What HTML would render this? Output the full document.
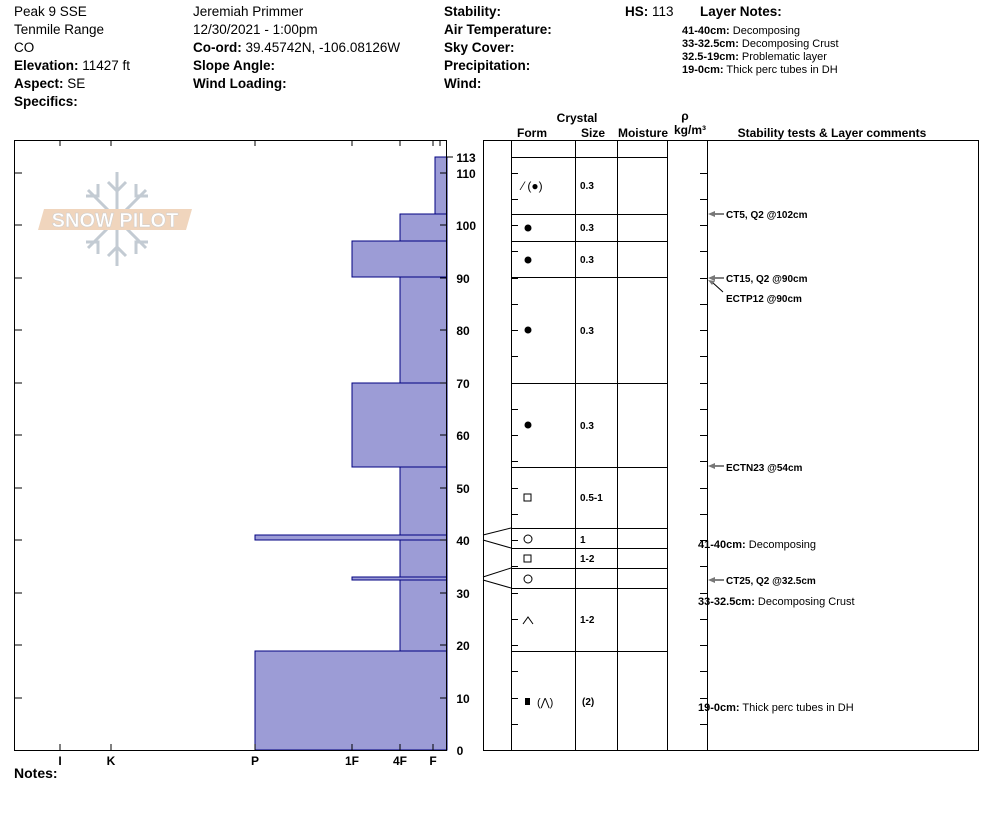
<!DOCTYPE html><html><head><style>body{margin:0;background:#fff}svg{display:block;font-family:"Liberation Sans",Arial,sans-serif}</style></head><body>
<svg width="994" height="840" viewBox="0 0 994 840" xmlns="http://www.w3.org/2000/svg">
<g font-size="13.5" fill="#000">
<text x="14" y="16">Peak 9 SSE</text><text x="14" y="34">Tenmile Range</text><text x="14" y="52">CO</text>
<text x="14" y="70"><tspan font-weight="bold">Elevation:</tspan> 11427 ft</text>
<text x="14" y="88"><tspan font-weight="bold">Aspect:</tspan> SE</text>
<text x="14" y="106" font-weight="bold">Specifics:</text>
<text x="193" y="16">Jeremiah Primmer</text><text x="193" y="34">12/30/2021 - 1:00pm</text>
<text x="193" y="52"><tspan font-weight="bold">Co-ord:</tspan> 39.45742N, -106.08126W</text>
<text x="193" y="70" font-weight="bold">Slope Angle:</text><text x="193" y="88" font-weight="bold">Wind Loading:</text>
<text x="444" y="16" font-weight="bold">Stability:</text><text x="444" y="34" font-weight="bold">Air Temperature:</text>
<text x="444" y="52" font-weight="bold">Sky Cover:</text><text x="444" y="70" font-weight="bold">Precipitation:</text>
<text x="444" y="88" font-weight="bold">Wind:</text>
<text x="625" y="16"><tspan font-weight="bold">HS:</tspan> 113</text>
<text x="700" y="16" font-weight="bold">Layer Notes:</text>
</g>
<g font-size="11"><text x="682" y="34"><tspan font-weight="bold">41-40cm:</tspan> Decomposing</text>
<text x="682" y="47"><tspan font-weight="bold">33-32.5cm:</tspan> Decomposing Crust</text>
<text x="682" y="60"><tspan font-weight="bold">32.5-19cm:</tspan> Problematic layer</text>
<text x="682" y="73"><tspan font-weight="bold">19-0cm:</tspan> Thick perc tubes in DH</text></g>
<!-- logo -->
<g stroke="#c3cbd3" stroke-width="3" fill="none"><line x1="117" y1="172" x2="117" y2="266"/><line x1="88" y1="190" x2="146" y2="248"/><line x1="146" y1="190" x2="88" y2="248"/>
<path d="M108 182l9 9 9-9M108 256l9-9 9 9M98 184v12h-12M136 184v12h12M98 254v-12h-12M136 254v-12h12"/></g>
<polygon points="44,209 192,209 186,230 38,230" fill="#f0d5bd"/>
<text x="115" y="227" font-size="20" fill="#fff" text-anchor="middle" font-weight="bold" stroke="#ccc" stroke-width=".5">SNOW PILOT</text>
<!-- hardness -->
<g fill="#9c9cd6" stroke="#000080" stroke-width="1">
<rect x="435" y="157" width="12" height="57.5"/><rect x="400" y="214" width="47" height="27"/><rect x="352" y="241" width="95" height="36"/>
<rect x="400" y="277" width="47" height="106"/><rect x="352" y="383" width="95" height="84"/><rect x="400" y="467" width="47" height="68"/>
<rect x="255" y="535" width="192" height="5"/><rect x="400" y="540" width="47" height="37"/><rect x="352" y="577" width="95" height="3"/>
<rect x="400" y="580" width="47" height="71"/><rect x="255" y="651" width="192" height="99"/></g>
<rect x="14.5" y="140.5" width="432" height="610" fill="none" stroke="#000"/>
<g stroke="#000"><path d="M14 173h8M14 225h8M14 278h8M14 330h8M14 383h8M14 435h8M14 488h8M14 540h8M14 593h8M14 645h8M14 698h8M440 173h7M440 225h7M440 278h7M440 330h7M440 383h7M440 435h7M440 488h7M440 540h7M440 593h7M440 645h7M440 698h7M447 157h6M60 744v6M111 744v6M255 744v6M352 744v6M400 744v6M433 744v6M60 140v6M111 140v6M255 140v6M352 140v6M400 140v6M433 140v6M440 140v6"/></g>
<g font-size="12" font-weight="bold" text-anchor="middle"><text x="466" y="162">113</text><text x="466" y="178">110</text><text x="466" y="230">100</text><text x="463" y="283">90</text><text x="463" y="335">80</text><text x="463" y="388">70</text><text x="463" y="440">60</text><text x="463" y="493">50</text><text x="463" y="545">40</text><text x="463" y="598">30</text><text x="463" y="650">20</text><text x="463" y="703">10</text><text x="460" y="755">0</text>
<text x="60" y="765">I</text><text x="111" y="765">K</text><text x="255" y="765">P</text><text x="352" y="765">1F</text><text x="400" y="765">4F</text><text x="433" y="765">F</text></g>
<text x="14" y="778" font-size="14" font-weight="bold">Notes:</text>
<!-- table -->
<g font-size="12" font-weight="bold" text-anchor="middle"><text x="577" y="122">Crystal</text><text x="532" y="137">Form</text><text x="593" y="137">Size</text><text x="643" y="137">Moisture</text><text x="685" y="120">ρ</text><text x="690" y="134">kg/m³</text><text x="832" y="137">Stability tests &amp; Layer comments</text></g>
<g stroke="#000" fill="none"><rect x="483.5" y="140.5" width="495" height="610"/>
<path d="M511.5 140v610M575.5 140v610M617.5 140v610M667.5 140v610M707.5 140v610"/>
<path d="M511 157.5h156M511 214.5h156M511 241.5h156M511 277.5h156M511 383.5h156M511 467.5h156M511 528.5h156M511 548.5h156M511 568.5h156M511 588.5h156M511 651.5h156"/>
<path d="M483 535l28-7M483 540l28 8M483 577l28-9M483 580l28 8"/>
<path d="M511 173.5h7M511 199.5h7M511 225.5h7M511 251.5h7M511 278.5h7M511 304.5h7M511 330.5h7M511 356.5h7M511 383.5h7M511 409.5h7M511 435.5h7M511 461.5h7M511 488.5h7M511 514.5h7M511 540.5h7M511 566.5h7M511 593.5h7M511 619.5h7M511 645.5h7M511 671.5h7M511 698.5h7M511 724.5h7
M700 173.5h7M700 199.5h7M700 225.5h7M700 251.5h7M700 278.5h7M700 304.5h7M700 330.5h7M700 356.5h7M700 383.5h7M700 409.5h7M700 435.5h7M700 461.5h7M700 488.5h7M700 514.5h7M700 540.5h7M700 566.5h7M700 593.5h7M700 619.5h7M700 645.5h7M700 671.5h7M700 698.5h7M700 724.5h7"/></g>
<g font-size="10" font-weight="bold"><text x="580" y="189">0.3</text><text x="580" y="231">0.3</text><text x="580" y="263">0.3</text><text x="580" y="334">0.3</text><text x="580" y="429">0.3</text><text x="580" y="501">0.5-1</text><text x="580" y="543">1</text><text x="580" y="562">1-2</text><text x="580" y="623">1-2</text><text x="582" y="705">(2)</text></g>
<g font-size="12"><text x="522" y="190">⁄ (●)</text><circle cx="528" cy="228" r="3.5"/><circle cx="528" cy="260" r="3.5"/><circle cx="528" cy="330" r="3.5"/><circle cx="528" cy="425" r="3.5"/>
<rect x="524" y="494" width="7" height="7" fill="none" stroke="#000"/><circle cx="528" cy="539" r="4" fill="none" stroke="#000"/><rect x="524" y="555" width="7" height="7" fill="none" stroke="#000"/><circle cx="528" cy="579" r="4" fill="none" stroke="#000"/>
<path d="M523 624l5-7 5 7" fill="none" stroke="#000"/><rect x="525" y="698" width="5" height="7"/><text x="537" y="706" font-size="11">(⋀)</text></g>
<g stroke="#000" fill="none"><path d="M714 214h10M714 278h10M712 282l11 10M714 466h10M714 580h10"/></g>
<g fill="#777"><path d="M708 214l7-3v6zM708 278l7-3v6zM708 280l7 1-3 4zM708 466l7-3v6zM708 580l7-3v6z"/></g>
<g font-size="10" font-weight="bold"><text x="726" y="218">CT5, Q2 @102cm</text><text x="726" y="282">CT15, Q2 @90cm</text><text x="726" y="302">ECTP12 @90cm</text><text x="726" y="471">ECTN23 @54cm</text><text x="726" y="584">CT25, Q2 @32.5cm</text></g>
<g font-size="11"><text x="698" y="548"><tspan font-weight="bold">41-40cm:</tspan> Decomposing</text><text x="698" y="605"><tspan font-weight="bold">33-32.5cm:</tspan> Decomposing Crust</text><text x="698" y="711"><tspan font-weight="bold">19-0cm:</tspan> Thick perc tubes in DH</text></g>
</svg></body></html>
